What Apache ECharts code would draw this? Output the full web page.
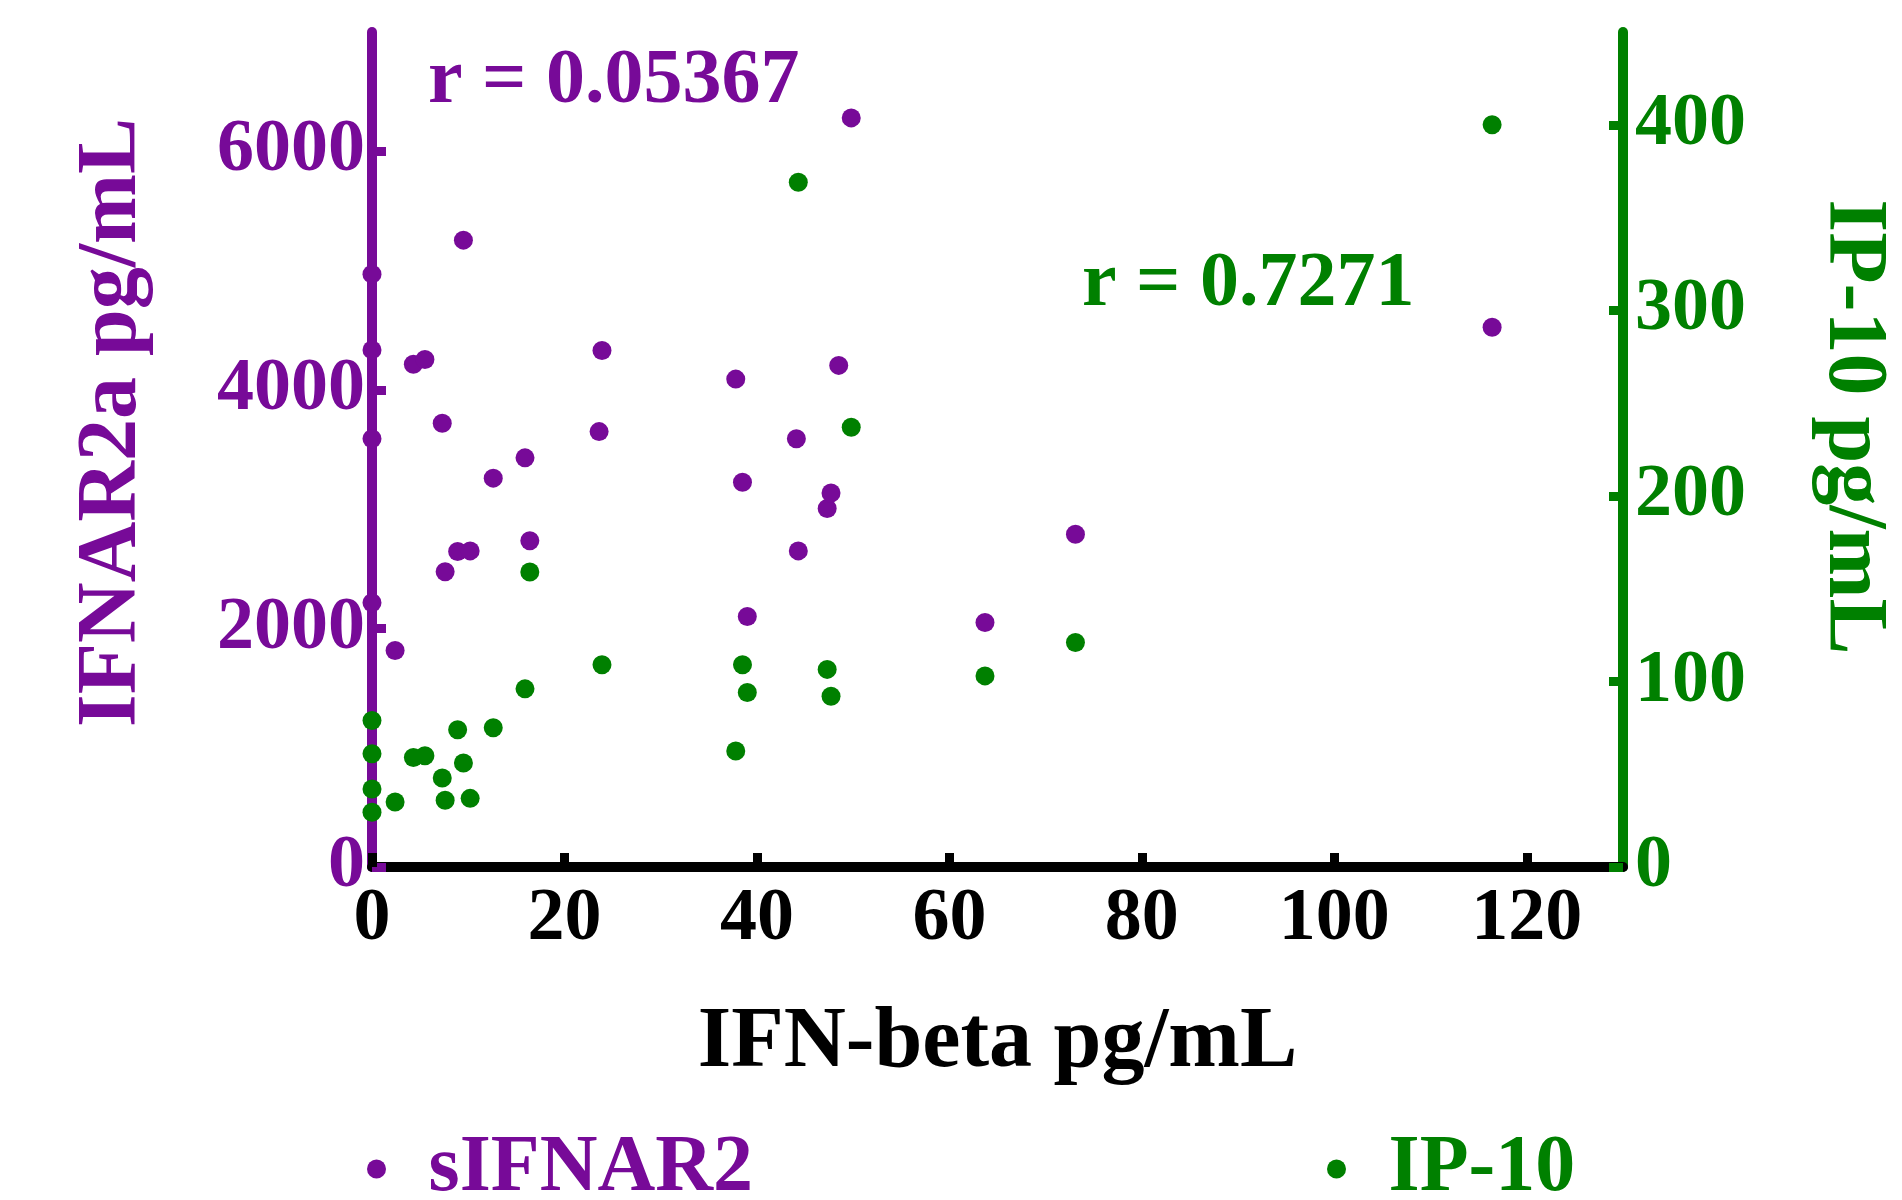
<!DOCTYPE html>
<html>
<head>
<meta charset="utf-8">
<script src="https://cdn.jsdelivr.net/npm/echarts@6/dist/echarts.min.js"></script>
<style>
html,body{margin:0;padding:0;background:#fff;}
#chart{width:1902px;height:1200px;}
</style>
</head>
<body>
<div id="chart"></div>
<script>
// ---- data ----
const xTicks = [0, 20, 40, 60, 80, 100, 120];
const leftTicks = [0, 2000, 4000, 6000];
const rightTicks = [0, 100, 200, 300, 400];

const sifnarX = [0, 0, 0, 0, 2.4, 4.3, 5.5, 7.3, 7.6, 8.9, 9.5, 10.2, 12.6, 15.9, 16.4, 23.6, 23.9, 37.8, 38.5, 39.0, 44.1, 44.3, 47.3, 47.7, 48.5, 49.8, 63.7, 73.1, 116.4];
const sifnarY = [4970, 4335, 3590, 2215, 1815, 4215, 4255, 3720, 2475, 2645, 5255, 2650, 3260, 3430, 2735, 3650, 4330, 4090, 3225, 2100, 3590, 2650, 3005, 3135, 4205, 6280, 2050, 2790, 4525];

const ip10X = [0, 0, 0, 0, 2.4, 4.3, 5.5, 7.3, 7.6, 8.9, 9.5, 10.2, 12.6, 15.9, 16.4, 23.9, 37.8, 38.5, 39.0, 44.3, 47.3, 47.7, 49.8, 63.7, 73.1, 116.4];
const ip10Y = [79, 61, 42, 29.5, 35, 59, 60, 48, 36, 74, 56, 37, 75, 96, 159, 109, 62.5, 109, 94, 369, 106.5, 92, 237, 103, 121, 400];

const seriesNames = ['sIFNAR2', 'IP-10'];
const rLabels = ['r = 0.05367', 'r = 0.7271'];
// ---- style ----
const PURPLE = '#770A98';
const GREEN = '#008000';
const FONT = 'Liberation Serif';

const chart = echarts.init(document.getElementById('chart'), null, {renderer: 'canvas'});

const zip = (xs, ys) => xs.map((x, i) => [x, ys[i]]);
const plain = v => String(v);

const axisText = (c, s) => ({color: c, fontFamily: FONT, fontWeight: 'bold', fontSize: s});

chart.setOption({
  animation: false,
  backgroundColor: '#ffffff',
  grid: {left: 372, top: 32, width: 1253, height: 835, containLabel: false},
  xAxis: {
    type: 'value', min: 0, max: 130,
    name: 'IFN-beta pg/mL', nameLocation: 'middle', nameGap: 134,
    nameTextStyle: axisText('#000', 86),
    axisLine: {show: true, onZero: false, lineStyle: {color: '#000', width: 10}},
    axisTick: {show: true, inside: true, length: 14, customValues: xTicks, lineStyle: {color: '#000', width: 9}},
    axisLabel: {show: true, margin: 16, customValues: xTicks, formatter: plain, ...axisText('#000', 74)},
    splitLine: {show: false}
  },
  yAxis: [{
    type: 'value', min: 0, max: 7000, position: 'left',
    name: 'IFNAR2a pg/mL', nameLocation: 'middle', nameGap: 217,
    nameTextStyle: Object.assign(axisText(PURPLE, 84), {padding: [0, 0, 0, 54]}),
    axisLine: {show: true, onZero: false, lineStyle: {color: PURPLE, width: 10}},
    axisTick: {show: true, inside: true, length: 14, customValues: leftTicks, lineStyle: {color: PURPLE, width: 9}},
    axisLabel: {show: true, margin: 7, customValues: leftTicks, formatter: plain, ...axisText(PURPLE, 74)},
    splitLine: {show: false}
  }, {
    type: 'value', min: 0, max: 450, position: 'right',
    name: 'IP-10 pg/mL', nameLocation: 'middle', nameGap: 187, nameRotate: -90,
    nameTextStyle: Object.assign(axisText(GREEN, 84), {padding: [0, 45, 0, 0]}),
    axisLine: {show: true, onZero: false, lineStyle: {color: GREEN, width: 10}},
    axisTick: {show: true, inside: true, length: 14, customValues: rightTicks, lineStyle: {color: GREEN, width: 9}},
    axisLabel: {show: true, margin: 12, customValues: rightTicks, formatter: plain, ...axisText(GREEN, 74)},
    splitLine: {show: false}
  }],
  legend: [{
    data: [{name: seriesNames[0], textStyle: {color: PURPLE}}],
    left: 362, top: 1124, orient: 'horizontal',
    itemWidth: 94, itemHeight: 19, icon: 'circle',
    textStyle: axisText(PURPLE, 80)
  }, {
    data: [{name: seriesNames[1], textStyle: {color: GREEN}}],
    left: 1322, top: 1124, orient: 'horizontal',
    itemWidth: 94, itemHeight: 19, icon: 'circle',
    textStyle: axisText(GREEN, 80)
  }],
  graphic: [{
    type: 'text', left: 428, top: 43, z: 10,
    style: {text: rLabels[0], fill: PURPLE, font: 'bold 78px "' + FONT + '"'}
  }, {
    type: 'text', left: 1082, top: 246, z: 10,
    style: {text: rLabels[1], fill: GREEN, font: 'bold 78px "' + FONT + '"'}
  }],
  series: [{
    name: seriesNames[0], type: 'scatter', yAxisIndex: 0,
    symbol: 'circle', symbolSize: 19,
    itemStyle: {color: PURPLE, opacity: 1},
    data: zip(sifnarX, sifnarY)
  }, {
    name: seriesNames[1], type: 'scatter', yAxisIndex: 1,
    symbol: 'circle', symbolSize: 19,
    itemStyle: {color: GREEN, opacity: 1},
    data: zip(ip10X, ip10Y)
  }]
});
</script>
</body>
</html>
